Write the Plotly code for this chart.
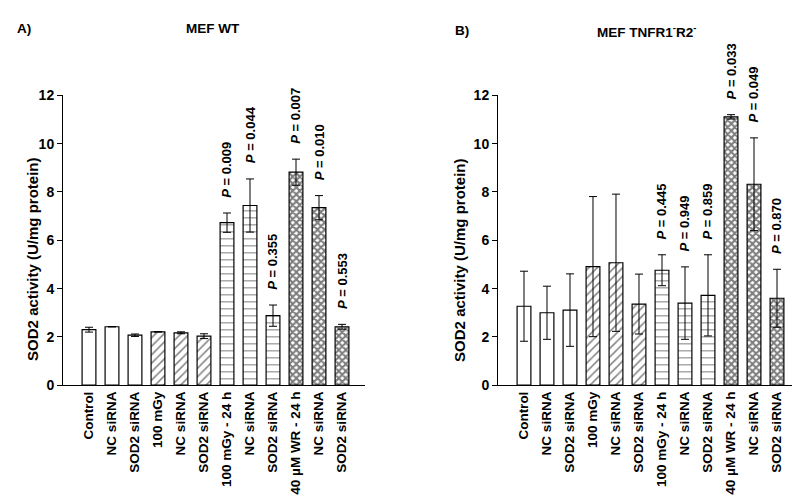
import plotly.graph_objects as go

categories = ["Control", "NC siRNA", "SOD2 siRNA", "100 mGy", "NC siRNA", "SOD2 siRNA",
              "100 mGy - 24 h", "NC siRNA", "SOD2 siRNA", "40 µM WR - 24 h", "NC siRNA", "SOD2 siRNA"]
patterns = ["", "", "", "/", "/", "/", "-", "-", "-", "x", "x", "x"]

wt_mean = [2.30, 2.42, 2.07, 2.21, 2.17, 2.03, 6.73, 7.44, 2.88, 8.82, 7.35, 2.42]
wt_err = [0.10, 0.0, 0.05, 0.0, 0.04, 0.10, 0.40, 1.10, 0.44, 0.54, 0.50, 0.10]
wt_p = [None, None, None, None, None, None, "0.009", "0.044", "0.355", "0.007", "0.010", "0.553"]

ko_mean = [3.27, 3.00, 3.11, 4.91, 5.07, 3.36, 4.76, 3.40, 3.72, 11.11, 8.32, 3.60]
ko_err = [1.45, 1.10, 1.50, 2.90, 2.84, 1.24, 0.64, 1.50, 1.68, 0.09, 1.92, 1.20]
ko_p = [None, None, None, None, None, None, "0.445", "0.949", "0.859", "0.033", "0.049", "0.870"]

FONT = "Liberation Sans, Arial, sans-serif"
x_pos = list(range(len(categories)))

pat_size = {"": 6, "/": 6, "-": 7, "x": 5}
pat_sol = {"": 0.1, "/": 0.25, "-": 0.15, "x": 0.65}

fig = go.Figure()


def add_panel(means, errs, xa, ya):
    fig.add_trace(go.Bar(
        x=x_pos, y=means, xaxis=xa, yaxis=ya, width=0.6,
        marker=dict(color="white", line=dict(color="black", width=1.2),
                    pattern=dict(shape=patterns, fgcolor="black", bgcolor="white",
                                 size=[pat_size[p] for p in patterns],
                                 solidity=[pat_sol[p] for p in patterns], fillmode="overlay")),
        error_y=dict(type="data", array=errs, visible=True, color="black", thickness=1, width=4),
        showlegend=False, hoverinfo="skip"))


add_panel(wt_mean, wt_err, "x", "y")
add_panel(ko_mean, ko_err, "x2", "y2")

H = 497.0
ydom = [1 - 381.5 / H, 1 - 82 / H]
xdom1 = [55 / 800, 357 / 800]
xdom2 = [490 / 800, 792 / 800]

ax_common = dict(showline=True, linecolor="black", linewidth=1, showgrid=False, zeroline=False)
yax = dict(ax_common, range=[0, 12], dtick=2, ticks="outside", ticklen=5, tickcolor="black",
           tickfont=dict(family=FONT, size=14, color="black", weight="bold"))
xax = dict(ax_common, range=[-1.13, 12.0], tickvals=x_pos, ticktext=categories, tickangle=-90,
           ticks="", tickfont=dict(family=FONT, size=13.5, color="black", weight="bold"))

fig.update_layout(
    width=800, height=497, margin=dict(l=0, r=0, t=0, b=0),
    plot_bgcolor="white", paper_bgcolor="white",
    xaxis=dict(xax, domain=xdom1, anchor="y"),
    yaxis=dict(yax, domain=ydom, anchor="x"),
    xaxis2=dict(xax, domain=xdom2, anchor="y2"),
    yaxis2=dict(yax, domain=ydom, anchor="x2"),
)

anns = []
for means, errs, ps, xr, yr in [(wt_mean, wt_err, wt_p, "x", "y"), (ko_mean, ko_err, ko_p, "x2", "y2")]:
    for i, p in enumerate(ps):
        if p is None:
            continue
        anns.append(dict(x=x_pos[i], y=means[i] + errs[i] + 0.55, xref=xr, yref=yr,
                         text="<i>P</i> = " + p, textangle=-90, showarrow=False,
                         yanchor="bottom", xanchor="center",
                         font=dict(family=FONT, size=13, color="black", weight="bold")))

title_font = dict(family=FONT, size=13.5, color="black", weight="bold")
ytitle_font = dict(family=FONT, size=15, color="black", weight="bold")
anns += [
    dict(x=25 / 800, y=1 - 252 / H, xref="paper", yref="paper", text="SOD2 activity (U/mg protein)",
         textangle=-90, showarrow=False, xanchor="center", yanchor="middle", font=ytitle_font),
    dict(x=452 / 800, y=1 - 252 / H, xref="paper", yref="paper", text="SOD2 activity (U/mg protein)",
         textangle=-90, showarrow=False, xanchor="center", yanchor="middle", font=ytitle_font),
    dict(x=7 / 800, y=1 - 13 / H, xref="paper", yref="paper", text="A)", showarrow=False,
         xanchor="left", yanchor="middle", font=title_font),
    dict(x=205 / 800, y=1 - 13 / H, xref="paper", yref="paper", text="MEF WT", showarrow=False,
         xanchor="center", yanchor="middle", font=title_font),
    dict(x=445 / 800, y=1 - 15 / H, xref="paper", yref="paper", text="B)", showarrow=False,
         xanchor="left", yanchor="middle", font=title_font),
    dict(x=638 / 800, y=1 - 16 / H, xref="paper", yref="paper",
         text="MEF TNFR1<sup>-</sup>R2<sup>-</sup>", showarrow=False,
         xanchor="center", yanchor="middle", font=title_font),
]
fig.update_layout(annotations=anns)

fig.write_html("out.html")
